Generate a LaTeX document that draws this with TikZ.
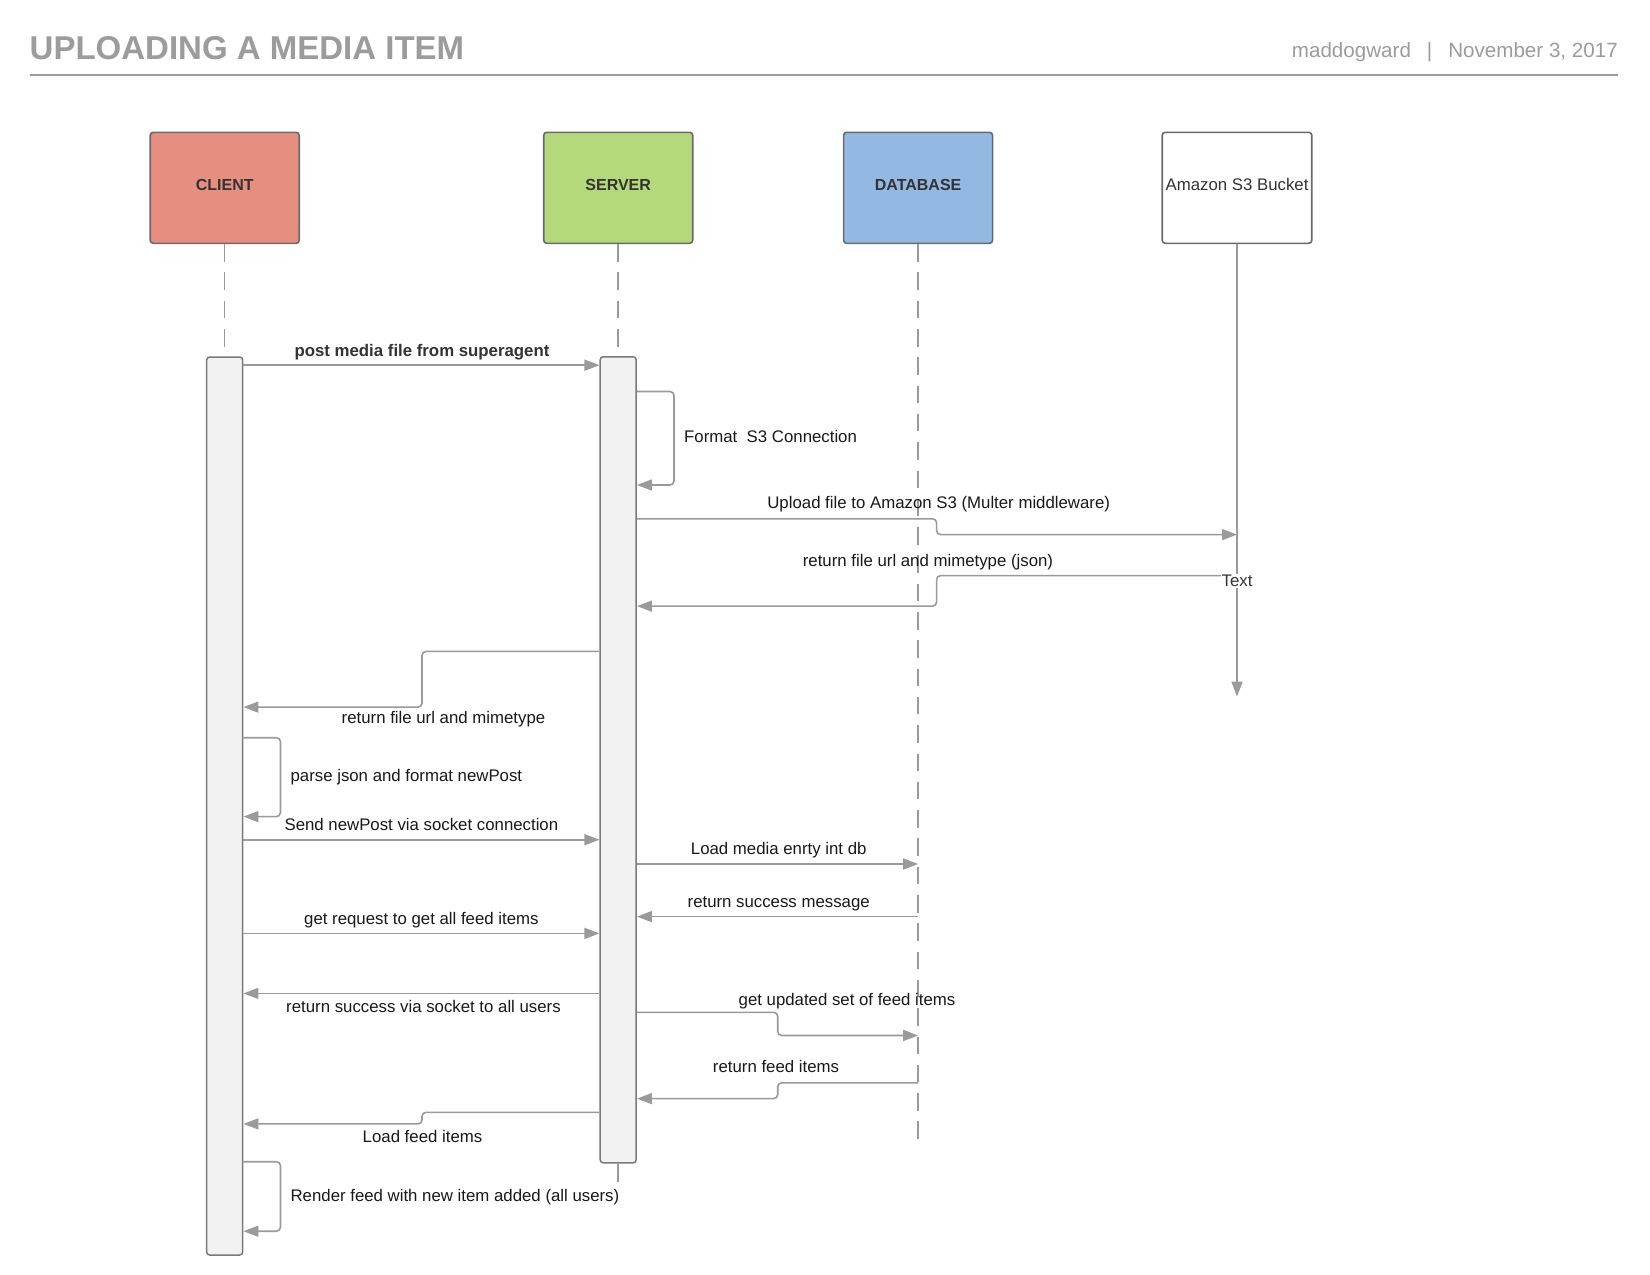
\documentclass[tikz,border=0pt]{standalone}
\usepackage{fontspec}
\setmainfont{Liberation Sans}
\usetikzlibrary{arrows.meta}
\definecolor{clientred}{HTML}{E68F80}
\definecolor{servergreen}{HTML}{B3D97B}
\definecolor{dbblue}{HTML}{93B8E1}
\definecolor{boxgray}{HTML}{6B6B6B}
\definecolor{bargray}{HTML}{7A7A7A}
\definecolor{barfill}{HTML}{F2F2F2}
\definecolor{linegray}{HTML}{9A9A9A}
\definecolor{headgray}{HTML}{9C9C9C}
\definecolor{txtgray}{HTML}{333333}
\begin{document}
\begin{tikzpicture}[x=1pt,y=-1pt,
    head/.style={draw=boxgray,line width=1.6pt,rounded corners=3pt,minimum width=149pt,minimum height=111pt,text=txtgray,text depth=6.4pt,font=\fontsize{16}{19}\selectfont\bfseries},
    bar/.style={draw=bargray,fill=barfill,line width=1.5pt,rounded corners=3pt,minimum width=36pt,inner sep=0pt},
    msg/.style={draw=linegray,line width=1.6pt,rounded corners=4pt,-{Triangle[length=15pt,width=11pt]}},
    lifeline/.style={draw=linegray,line width=1.5pt,dash pattern=on 17.5pt off 10.8pt},
    lbl/.style={font=\fontsize{16.8}{20}\selectfont,text=black!90,inner sep=1pt,text height=16.7pt,text depth=3.5pt}]
    \fill[white](0,0)rectangle(1650,1275);
    \useasboundingbox (0,0) rectangle (1650,1275);
    % header
    \node[anchor=base west,inner sep=0pt,text=headgray,font=\fontsize{33}{36}\selectfont\bfseries] (title) at (29.5,59.5) {UPLOADING A MEDIA ITEM};
    \node[anchor=base east,inner sep=0pt,text=headgray,font=\fontsize{20.6}{24}\selectfont] (stamp) at (1618,57) {maddogward\hspace{16pt}|\hspace{16pt}November 3, 2017};
    \draw[headgray,line width=2pt] (29.5,74.7) -- (1618,74.7);
    % participants
    \node[head,fill=clientred] (client) at (224.7,187.8) {CLIENT};
    \node[head,fill=servergreen] (server) at (618.2,187.8) {SERVER};
    \node[head,fill=dbblue] (database) at (918.1,187.8) {DATABASE};
    \node[head,fill=white,font=\fontsize{16.8}{20}\selectfont] (bucket) at (1237,187.8) {Amazon S3 Bucket};
    \node[bar,minimum height=898pt] (cbar) at (224.7,806) {};
    \node[bar,minimum height=806pt] (sbar) at (618.2,759.8) {};
    \draw[lifeline] (client.south) -- (cbar.north);
    \draw[lifeline] (server.south) -- (sbar.north);
    \draw[linegray,line width=1.5pt] (sbar.south) -- ++(0,18);
    \draw[lifeline] (database.south) -- (database.south |- 0,1143.3);
    \draw[msg,rounded corners=0pt] (bucket.south) -- (bucket.south |- 0,696.6);
    % messages
    \draw[msg] (cbar.east |- 0,365.2) -- (sbar.west |- 0,365.2);
    \draw[msg] (sbar.east |- 0,391.5) -- ++(37,0) -- ++(0,93.5) -- (sbar.east |- 0,485);
    \draw[msg] (sbar.east |- 0,518.8) -- (936.6,518.8) -- (936.6,534.6) -- (bucket.south |- 0,534.6);
    \draw[msg] (bucket.south |- 0,575.6) -- (936.6,575.6) -- (936.6,606.1) -- (sbar.east |- 0,606.1);
    \node[inner sep=1pt,fill=white,text=txtgray,font=\fontsize{16.8}{20}\selectfont] (txt) at (1237,581) {Text};
    \draw[msg] (sbar.west |- 0,651.4) -- (422,651.4) -- (422,707.1) -- (cbar.east |- 0,707.1);
    \draw[msg] (cbar.east |- 0,737.7) -- ++(37,0) -- ++(0,78.9) -- (cbar.east |- 0,816.6);
    \draw[msg] (cbar.east |- 0,839.7) -- (sbar.west |- 0,839.7);
    \draw[msg] (sbar.east |- 0,864) -- (database.south |- 0,864);
    \draw[msg] (database.south |- 0,916.6) -- (sbar.east |- 0,916.6);
    \draw[msg] (cbar.east |- 0,933.4) -- (sbar.west |- 0,933.4);
    \draw[msg] (sbar.west |- 0,993.4) -- (cbar.east |- 0,993.4);
    \draw[msg] (sbar.east |- 0,1012.3) -- (777.7,1012.3) -- (777.7,1035.5) -- (database.south |- 0,1035.5);
    \draw[msg] (database.south |- 0,1082.8) -- (777.7,1082.8) -- (777.7,1098.6) -- (sbar.east |- 0,1098.6);
    \draw[msg] (sbar.west |- 0,1112.3) -- (422,1112.3) -- (422,1123.9) -- (cbar.east |- 0,1123.9);
    \draw[msg] (cbar.east |- 0,1161.7) -- ++(37,0) -- ++(0,69.5) -- (cbar.east |- 0,1231.2);
    % labels
    \node[lbl,text=txtgray,font=\fontsize{16.8}{20}\selectfont\bfseries] (l1) at (422,349.4) {post media file from superagent};
    \node[lbl,anchor=west] (l2) at (683,435.7) {Format\ \ S3 Connection};
    \node[lbl] (l3) at (938.7,502) {Upload file to Amazon S3 (Multer middleware)};
    \node[lbl] (l4) at (928,559.8) {return file url and mimetype (json)};
    \node[lbl] (l5) at (443.5,716.6) {return file url and mimetype};
    \node[lbl,anchor=west] (l6) at (289.4,774.5) {parse json and format newPost};
    \node[lbl] (l7) at (421.4,824) {Send newPost via socket connection};
    \node[lbl] (l8) at (778.7,848.2) {Load media enrty int db};
    \node[lbl] (l9) at (778.7,900.8) {return success message};
    \node[lbl] (l10) at (421.4,917.6) {get request to get all feed items};
    \node[lbl] (l11) at (423.5,1006) {return success via socket to all users};
    \node[lbl] (l12) at (847,998.6) {get updated set of feed items};
    \node[lbl] (l13) at (776,1066) {return feed items};
    \node[lbl] (l14) at (422.5,1135.4) {Load feed items};
    \node[lbl,anchor=west] (l15) at (289.4,1194.4) {Render feed with new item added (all users)};
\end{tikzpicture}
\end{document}
